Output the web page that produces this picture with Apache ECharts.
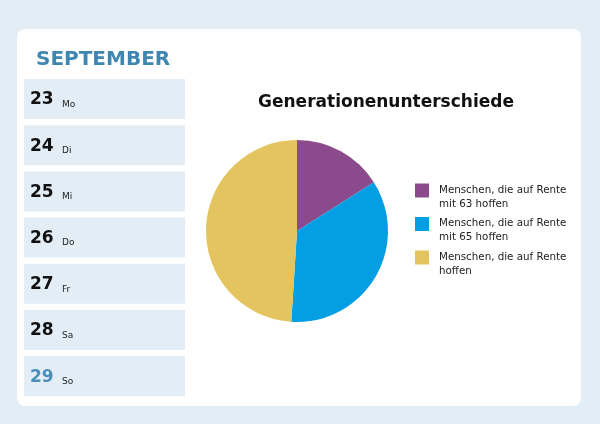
<!DOCTYPE html>
<html><head><meta charset="utf-8">
<script src="https://cdn.jsdelivr.net/npm/echarts@6/dist/echarts.min.js"></script>
<style>html,body{margin:0;padding:0;background:#e2edf6}#c{width:600px;height:424px}</style>
</head><body><div id="c"></div>
<script>
const monthLabel = 'SEPTEMBER';
const dayNumbers = ['23','24','25','26','27','28','29'];
const dayNames = ['Mo','Di','Mi','Do','Fr','Sa','So'];
const chartTitle = 'Generationenunterschiede';
const categories = ['Menschen, die auf Rente\nmit 63 hoffen','Menschen, die auf Rente\nmit 65 hoffen','Menschen, die auf Rente\nhoffen'];
const values = [16, 35, 49];
const colors = ['#8a4a8b', '#049ee3', '#e4c45e'];

const FONT = 'DejaVu Sans';
const graphics = [
  {type:'rect', shape:{x:17,y:29,width:564,height:377,r:8}, style:{fill:'#ffffff'}, z:0},
  {type:'text', x:36, y:59.5, style:{text:monthLabel, font:'600 20px "DejaVu Sans"', fill:'#3f87b1', textVerticalAlign:'middle'}, z:1}
];
dayNumbers.forEach((d,i)=>{
  const y0 = 79 + i*46.2;
  graphics.push({type:'rect', shape:{x:24,y:y0,width:161,height:40}, style:{fill:'#e2edf6'}, z:1});
  graphics.push({type:'text', x:30, y:y0+21, style:{text:d, font:'bold 17px "DejaVu Sans"', fill: i===6 ? '#4a8fb8' : '#111111', textVerticalAlign:'middle'}, z:2});
  graphics.push({type:'text', x:62, y:y0+25.5, style:{text:dayNames[i], font:'9px "DejaVu Sans"', fill:'#222222', textVerticalAlign:'middle'}, z:2});
});

const chart = echarts.init(document.getElementById('c'));
chart.setOption({
  backgroundColor:'#e2edf6',
  animation:false,
  color: colors,
  title:{text:chartTitle, left:381, top:89, textAlign:'center', textStyle:{fontFamily:FONT, fontWeight:'bold', fontSize:17, color:'#111111'}},
  legend:{orient:'vertical', left:410, top:178, itemWidth:14, itemHeight:27, itemGap:5.5,
    icon:'path://M0,0L14,0L14,14L0,14Z M0,27',
    textStyle:{fontFamily:FONT, fontSize:10.3, lineHeight:14, color:'#222222', padding:[0,0,0,5]},
    data: categories},
  graphic: graphics,
  series:[{type:'pie', center:[297,231], radius:91, startAngle:90, clockwise:true, label:{show:false}, labelLine:{show:false},
    itemStyle:{borderWidth:0}, emphasis:{disabled:true}, z:3,
    data: categories.map((c,i)=>({name:c, value:values[i]}))}]
});
</script></body></html>
